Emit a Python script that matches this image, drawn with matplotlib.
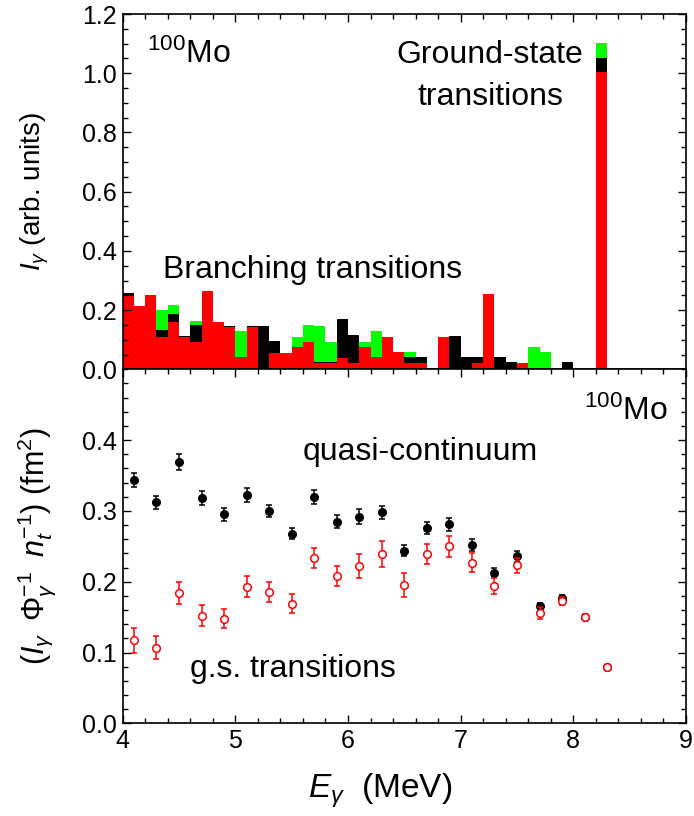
import numpy as np
import matplotlib
matplotlib.use('Agg')
from matplotlib import pyplot as plt
from matplotlib.ticker import MultipleLocator

plt.rcParams['font.family'] = ['Liberation Sans', 'DejaVu Sans']
plt.rcParams['mathtext.fontset'] = 'custom'
plt.rcParams['mathtext.rm'] = 'Liberation Sans'
plt.rcParams['mathtext.it'] = 'Liberation Sans:italic'
plt.rcParams['mathtext.bf'] = 'Liberation Sans:bold'

# gamma-ray intensity histograms, 0.1 MeV bins starting at 4.0 MeV
bin_lo = [4.0, 4.1, 4.2, 4.3, 4.4, 4.5, 4.6, 4.7, 4.8, 4.9,
          5.0, 5.1, 5.2, 5.3, 5.4, 5.5, 5.6, 5.7, 5.8, 5.9,
          6.0, 6.1, 6.2, 6.3, 6.4, 6.5, 6.6, 6.7, 6.8, 6.9,
          7.0, 7.1, 7.2, 7.3, 7.4, 7.5, 7.6, 7.7, 7.8, 7.9,
          8.0, 8.1, 8.2]
int_red = [0.249, 0.214, 0.251, 0.110, 0.161, 0.110, 0.093, 0.266, 0.161, 0.144,
           0.040, 0.144, 0.000, 0.056, 0.056, 0.074, 0.093, 0.022, 0.022, 0.039,
           0.020, 0.076, 0.040, 0.110, 0.057, 0.022, 0.022, 0.000, 0.110, 0.000,
           0.000, 0.022, 0.254, 0.000, 0.000, 0.020, 0.000, 0.000, 0.000, 0.000,
           0.000, 0.000, 1.003]
int_black = [0.257, 0.214, 0.251, 0.133, 0.186, 0.113, 0.150, 0.266, 0.161, 0.147,
             0.040, 0.147, 0.147, 0.096, 0.056, 0.074, 0.093, 0.026, 0.026, 0.169,
             0.116, 0.076, 0.040, 0.110, 0.059, 0.040, 0.040, 0.003, 0.110, 0.113,
             0.040, 0.040, 0.254, 0.040, 0.024, 0.020, 0.000, 0.000, 0.000, 0.024,
             0.000, 0.000, 1.053]
int_green = [0.257, 0.214, 0.251, 0.200, 0.217, 0.113, 0.163, 0.266, 0.161, 0.147,
             0.129, 0.147, 0.147, 0.096, 0.056, 0.110, 0.150, 0.146, 0.093, 0.169,
             0.116, 0.093, 0.130, 0.110, 0.059, 0.059, 0.040, 0.003, 0.110, 0.113,
             0.040, 0.040, 0.254, 0.040, 0.024, 0.020, 0.075, 0.058, 0.000, 0.024,
             0.000, 0.000, 1.103]

# normalised intensities per 0.2 MeV bin
e_pts = [4.1, 4.3, 4.5, 4.7, 4.9, 5.1, 5.3, 5.5, 5.7, 5.9, 6.1,
         6.3, 6.5, 6.7, 6.9, 7.1, 7.3, 7.5, 7.7, 7.9, 8.1, 8.3]
qc = [0.344, 0.312, 0.369, 0.318, 0.295, 0.323, 0.300, 0.268, 0.320, 0.285, 0.292,
      0.298, 0.244, 0.276, 0.281, 0.252, 0.213, 0.236, 0.166, 0.177, 0.150, 0.080]
qc_err = [0.010, 0.009, 0.011, 0.010, 0.009, 0.010, 0.009, 0.008, 0.010, 0.009, 0.010,
          0.009, 0.008, 0.009, 0.009, 0.008, 0.007, 0.008, 0.0045, 0.0047, 0.003, 0.002]
gs = [0.117, 0.107, 0.184, 0.152, 0.148, 0.193, 0.186, 0.169, 0.233, 0.208, 0.222,
      0.239, 0.196, 0.239, 0.250, 0.227, 0.194, 0.223, 0.156, 0.173, 0.150, 0.080]
gs_err = [0.018, 0.016, 0.016, 0.015, 0.014, 0.015, 0.014, 0.013, 0.014, 0.014, 0.017,
          0.018, 0.017, 0.014, 0.015, 0.013, 0.011, 0.011, 0.008, 0.006, 0.004, 0.002]

edges = np.append(bin_lo, bin_lo[-1] + 0.1)

fig = plt.figure(figsize=(6.94, 8.16), dpi=100)
ax1 = fig.add_axes([0.1768, 0.5474, 0.8117, 0.4354])
ax2 = fig.add_axes([0.1768, 0.1136, 0.8117, 0.4338])

ax1.stairs(int_green, edges, fill=True, color='#00ff00', lw=0)
ax1.stairs(int_black, edges, fill=True, color='black', lw=0)
ax1.stairs(int_red, edges, fill=True, color='#ff0000', lw=0)

ax2.errorbar(e_pts, qc, yerr=qc_err, fmt='o', color='black', ms=5.5,
             capsize=2.4, elinewidth=1.1, capthick=1.1, zorder=3)
ax2.errorbar(e_pts, gs, yerr=gs_err, fmt='o', color='red', mfc='white',
             mec='red', ms=5.5, mew=1.1, capsize=2.4, elinewidth=1.1,
             capthick=1.1, zorder=4)

for ax in (ax1, ax2):
    ax.set_xlim(4, 9)
    ax.xaxis.set_major_locator(MultipleLocator(1))
    ax.xaxis.set_minor_locator(MultipleLocator(0.2))
    ax.tick_params(which='both', direction='in', right=True, top=True,
                   width=1, labelsize=18, pad=4)
    ax.tick_params(which='major', length=6)
    ax.tick_params(which='minor', length=3.5)
    for sp in ax.spines.values():
        sp.set_linewidth(1.2)

ax1.set_ylim(0, 1.2)
ax1.yaxis.set_major_locator(MultipleLocator(0.2))
ax1.yaxis.set_minor_locator(MultipleLocator(0.05))
ax1.tick_params(axis='x', which='both', bottom=False, labelbottom=False)

ax2.set_ylim(0, 0.5)
ax2.set_yticks([0.0, 0.1, 0.2, 0.3, 0.4])
ax2.yaxis.set_minor_locator(MultipleLocator(0.02))
ax2.set_yticklabels(['0.0', '0.1', '0.2', '0.3', '0.4'])

ax1.set_ylabel(r'$\mathit{I}_{\gamma}$ (arb. units)', fontsize=20)
ax1.yaxis.set_label_coords(-0.128, 0.5)
ax2.set_ylabel(r'$(\mathit{I}_{\gamma}\;\;\Phi_{\gamma}^{-1}\;\;\mathit{n}_{t}^{-1})$ (fm$^{2}$)',
               fontsize=22)
ax2.yaxis.set_label_coords(-0.115, 0.5)
fig.text(380 / 694, 1 - 798 / 816, r'$\mathit{E}_{\gamma}$  (MeV)', fontsize=24,
         ha='center', va='baseline')

ax1.text(4.22, 1.035, r'$^{100}$Mo', fontsize=23, va='baseline')
ax1.text(7.26, 1.035, 'Ground-state', fontsize=23, ha='center', va='baseline')
ax1.text(7.26, 0.893, 'transitions', fontsize=23, ha='center', va='baseline')
ax1.text(4.355, 0.31, 'Branching transitions', fontsize=23, va='baseline')

ax2.text(8.84, 0.428, r'$^{100}$Mo', fontsize=23, ha='right', va='baseline')
ax2.text(5.6, 0.372, 'quasi-continuum', fontsize=23, va='baseline')
ax2.text(4.6, 0.066, 'g.s. transitions', fontsize=23, va='baseline')

fig.savefig('out.png', dpi=100)
